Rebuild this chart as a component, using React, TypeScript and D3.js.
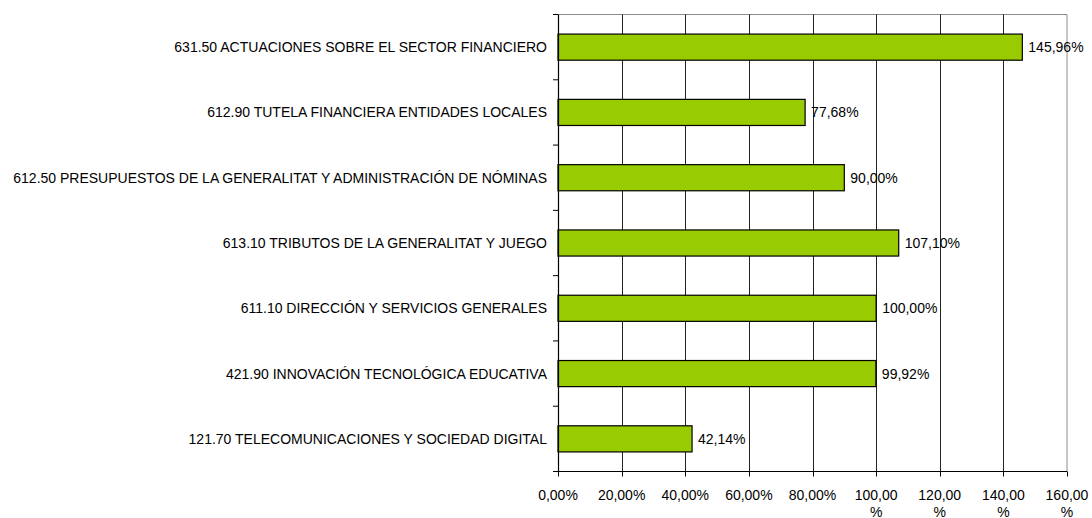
import React from "react";
import * as d3 from "d3";

const categories = [
  "631.50 ACTUACIONES SOBRE EL SECTOR FINANCIERO",
  "612.90 TUTELA FINANCIERA ENTIDADES LOCALES",
  "612.50 PRESUPUESTOS DE LA GENERALITAT Y ADMINISTRACIÓN DE NÓMINAS",
  "613.10 TRIBUTOS DE LA GENERALITAT Y JUEGO",
  "611.10 DIRECCIÓN Y SERVICIOS GENERALES",
  "421.90 INNOVACIÓN TECNOLÓGICA EDUCATIVA",
  "121.70 TELECOMUNICACIONES Y SOCIEDAD DIGITAL",
];
const values = [145.96, 77.68, 90.0, 107.1, 100.0, 99.92, 42.14];
const xTicks = [0, 20, 40, 60, 80, 100, 120, 140, 160];

const W = 1092;
const H = 518;
const left = 558;
const right = 1067;
const top = 14.5;
const bottom = 471.5;
const font = "'Liberation Sans', Arial, sans-serif";

const fmt = (v: number) => v.toFixed(2).replace(".", ",");

export default function App() {
  const x = d3.scaleLinear().domain([0, 160]).range([left, right]);
  const y = d3.scaleBand<string>().domain(categories).range([top, bottom]).padding(0);
  const bw = y.bandwidth();
  const barH = bw * 0.4;
  const boundaries = d3.range(categories.length + 1).map((i) => top + i * bw);

  return (
    <svg
      width={W}
      height={H}
      style={{ position: "absolute", left: 0, top: 0, background: "#fff" }}
      fontFamily={font}
    >
      <line x1={left} x2={right} y1={top} y2={top} stroke="#8c8c8c" strokeWidth={1} />
      <line x1={right} x2={right} y1={top} y2={bottom} stroke="#8c8c8c" strokeWidth={1} />
      {xTicks
        .filter((t) => t > 0 && t < 160)
        .map((t) => (
          <line
            key={"g" + t}
            x1={Math.round(x(t)) + 0.5}
            x2={Math.round(x(t)) + 0.5}
            y1={top}
            y2={bottom}
            stroke="#222"
            strokeWidth={1}
          />
        ))}
      {categories.map((c, i) => {
        const cy = (y(c) as number) + bw / 2;
        return (
          <g key={c}>
            <rect
              x={x(0)}
              y={cy - barH / 2}
              width={x(values[i]) - x(0)}
              height={barH}
              fill="#99CC00"
              stroke="#000"
              strokeWidth={1.2}
            />
            <text x={x(values[i]) + 6} y={cy} dy="0.36em" fontSize={14} fill="#000">
              {fmt(values[i]) + "%"}
            </text>
            <text x={547} y={cy} dy="0.36em" fontSize={14} textAnchor="end" fill="#000">
              {c}
            </text>
          </g>
        );
      })}
      <line x1={left + 0.5} x2={left + 0.5} y1={top} y2={bottom} stroke="#000" strokeWidth={1.2} />
      {boundaries.map((b, i) => (
        <line key={"lt" + i} x1={left - 5} x2={left} y1={b} y2={b} stroke="#000" strokeWidth={1} />
      ))}
      <line x1={left} x2={right} y1={bottom} y2={bottom} stroke="#000" strokeWidth={1.2} />
      {xTicks.map((t) => (
        <g key={"t" + t}>
          <line
            x1={Math.round(x(t)) + 0.5}
            x2={Math.round(x(t)) + 0.5}
            y1={bottom}
            y2={bottom + 5}
            stroke="#000"
            strokeWidth={1}
          />
          {t < 100 ? (
            <text x={x(t)} y={500} fontSize={14} textAnchor="middle" fill="#000">
              {fmt(t) + "%"}
            </text>
          ) : (
            <text x={x(t)} y={500} fontSize={14} textAnchor="middle" fill="#000">
              <tspan x={x(t)}>{fmt(t)}</tspan>
              <tspan x={x(t)} dy={17}>%</tspan>
            </text>
          )}
        </g>
      ))}
    </svg>
  );
}
